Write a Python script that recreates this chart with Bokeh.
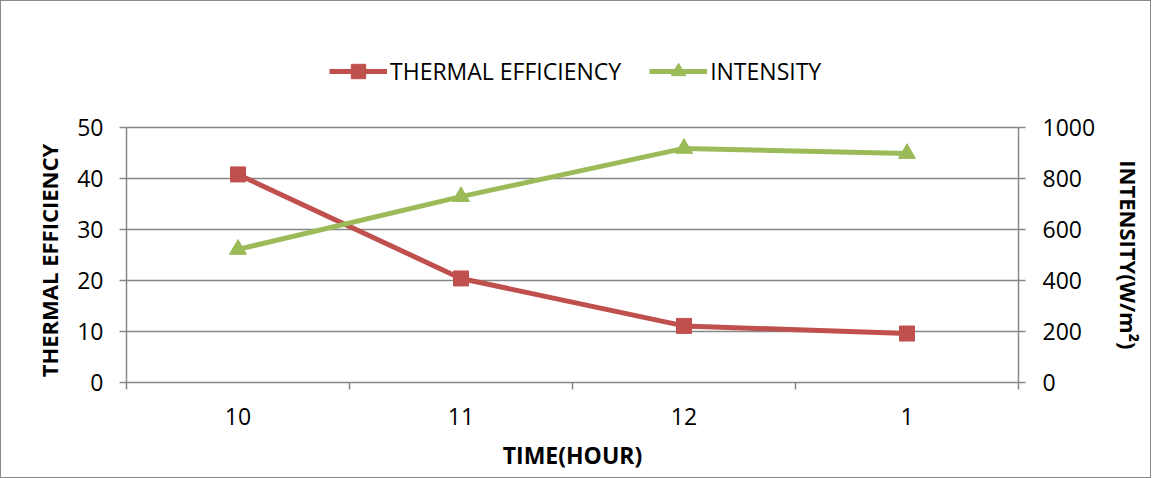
from bokeh.plotting import figure
from bokeh.models import (Range1d, LinearAxis, FixedTicker, Legend, LegendItem)
from bokeh.embed import file_html
from bokeh.resources import INLINE

hours = ["10", "11", "12", "1"]
thermal_efficiency = [40.8, 20.4, 11.1, 9.6]
intensity = [522, 729, 918, 898]
left_ticks = [0, 10, 20, 30, 40, 50]
right_ticks = [0, 200, 400, 600, 800, 1000]

RED = "#C0504D"
GREEN = "#9BBB59"
GRAY = "#878787"
FONT = "Open Sans"

x = [i + 0.5 for i in range(len(hours))]

W, H = 1151, 478
FRAME_TOP, AXIS_TOP, AXIS_BOTTOM, LEFT, RIGHT = 40, 126, 381, 125, 1017
# the frame also hosts the legend: extend the ranges so 50 / 1000 sit at AXIS_TOP
ext = (AXIS_BOTTOM - FRAME_TOP) / (AXIS_BOTTOM - AXIS_TOP)
y_max, r_max = left_ticks[-1], right_ticks[-1]
# non-breaking spaces at the upper end keep the vertical titles centred on the axis
PAD_L = "\u00a0" * 17
PAD_R = "\u00a0" * 15

p = figure(width=W, height=H, output_backend="svg", toolbar_location=None,
           x_range=Range1d(0, len(hours)), y_range=Range1d(0, y_max * ext),
           min_border_left=LEFT, min_border_right=W - RIGHT, min_border_top=FRAME_TOP,
           min_border_bottom=H - AXIS_BOTTOM, outline_line_color=None,
           styles={"border": "1px solid #8a8a8a", "box-sizing": "border-box"})
p.extra_y_ranges = {"int": Range1d(0, r_max * ext)}

# grid
p.xgrid.grid_line_color = None
p.ygrid.grid_line_color = GRAY
p.ygrid.grid_line_width = 1.5
p.ygrid.ticker = FixedTicker(ticks=left_ticks)

def style_axis(ax, label_size):
    ax.axis_line_color = GRAY
    ax.axis_line_width = 1.5
    ax.major_tick_line_color = GRAY
    ax.major_tick_line_width = 1.5
    ax.minor_tick_line_color = GRAY
    ax.minor_tick_line_width = 1.5
    ax.major_tick_in = 0
    ax.minor_tick_in = 0
    ax.major_label_text_font = FONT
    ax.major_label_text_font_size = "23px"
    ax.major_label_text_color = "#000000"
    ax.axis_label_text_font = FONT
    ax.axis_label_text_font_style = "bold"
    ax.axis_label_text_font_size = label_size
    ax.axis_label_text_color = "#000000"

# x axis
xa = p.xaxis[0]
xa.ticker = FixedTicker(ticks=x, minor_ticks=list(range(len(hours) + 1)))
xa.major_label_overrides = {xi: h for xi, h in zip(x, hours)}
style_axis(xa, "23px")
xa.major_tick_out = 0
xa.minor_tick_out = 7
xa.major_label_standoff = 18
xa.axis_label = "TIME(HOUR)"
xa.axis_label_standoff = 11

# left axis
ya = p.yaxis[0]
ya.ticker = FixedTicker(ticks=left_ticks)
ya.bounds = (0, y_max)
style_axis(ya, "22px")
ya.major_tick_out = 7
ya.minor_tick_out = 0
ya.major_label_standoff = 16
ya.axis_label = "THERMAL EFFICIENCY" + PAD_L
ya.axis_label_standoff = 10

# right axis (its title reads top-to-bottom, so the padding goes first)
ra = LinearAxis(y_range_name="int", ticker=FixedTicker(ticks=right_ticks),
                bounds=(0, r_max))
style_axis(ra, "22px")
ra.major_tick_out = 7
ra.minor_tick_out = 0
ra.major_label_standoff = 17
ra.axis_label = PAD_R + "INTENSITY(W/m²)"
ra.axis_label_standoff = 16
p.add_layout(ra, "right")

# series
l1 = p.line(x, thermal_efficiency, line_color=RED, line_width=5)
s1 = p.scatter(x, thermal_efficiency, marker="square", size=15,
               fill_color=RED, line_color=RED)
l2 = p.line(x, intensity, line_color=GREEN, line_width=5, y_range_name="int")
s2 = p.scatter(x, intensity, marker="triangle", size=17,
               fill_color=GREEN, line_color=GREEN, y_range_name="int")

legend = Legend(items=[LegendItem(label="THERMAL EFFICIENCY", renderers=[l1, s1]),
                       LegendItem(label="INTENSITY", renderers=[l2, s2])],
                orientation="horizontal", location=(203, AXIS_BOTTOM - 88),
                label_text_font=FONT, label_text_font_size="23px",
                label_text_color="#000000", border_line_color=None,
                background_fill_alpha=0, glyph_width=58, glyph_height=36,
                label_standoff=3, spacing=28, padding=0, margin=0)
p.add_layout(legend, "center")

open("out.html", "w").write(file_html(p, INLINE))
